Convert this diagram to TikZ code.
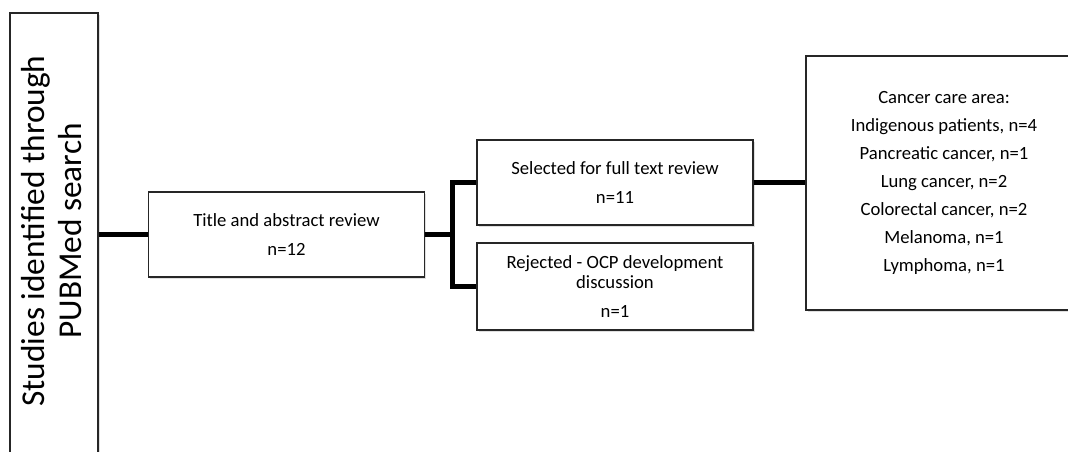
\documentclass[tikz,border=0pt]{standalone}
\usepackage{fontspec}
\setmainfont{Carlito}
\usetikzlibrary{shadows}

\begin{document}
\begin{tikzpicture}[
    x=.75pt, y=-.75pt,
    font=\fontsize{14}{15}\selectfont,
    box/.style={draw=black!85, line width=1.1pt, fill=white, align=center,
      inner sep=3pt, drop shadow={opacity=.25, shadow xshift=1.2pt,
      shadow yshift=-1.5pt}},
    stage/.style={box, minimum width=207pt, minimum height=63.75pt},
    link/.style={line width=3.6pt, color=black}
  ]
    \useasboundingbox (0,0) rectangle (1068,452);
    \clip (0,0) rectangle (1068,452);

    \node[box, minimum width=66pt, minimum height=336pt] (studies) at (54,237) {};
    \node[rotate=90, align=center, font=\fontsize{25}{27.75}\selectfont]
      (studiestext) at (52,231) {Studies identified through\\PUBMed search};

    \node[stage] (title) at (286.5,234.5)
      {Title and abstract review\\[6.75pt]n=12};
    \node[stage] (selected) at (615,182.5)
      {Selected for full text review\\[6.75pt]n=11};
    \node[stage, minimum height=65.25pt] (rejected) at (615,286.5)
      {Rejected - OCP development\\discussion\\[6.75pt]n=1};
    \node[box, minimum width=207pt, minimum height=190.5pt,
      font=\fontsize{14}{21}\selectfont] (cancer) at (944,183)
      {Cancer care area:\\
       Indigenous patients, n=4\\
       Pancreatic cancer, n=1\\
       Lung cancer, n=2\\
       Colorectal cancer, n=2\\
       Melanoma, n=1\\
       Lymphoma, n=1};

    \coordinate (fork) at ([xshift=20.25pt]title.east);
    \draw[link] (studies.east |- title.west) -- (title.west);
    \draw[link] (title.east) -- (fork);
    \draw[link] (selected.west) -| (fork) |- (rejected.west);
    \draw[link] (selected.east) -- (selected.east -| cancer.west);
  \end{tikzpicture}
\end{document}
